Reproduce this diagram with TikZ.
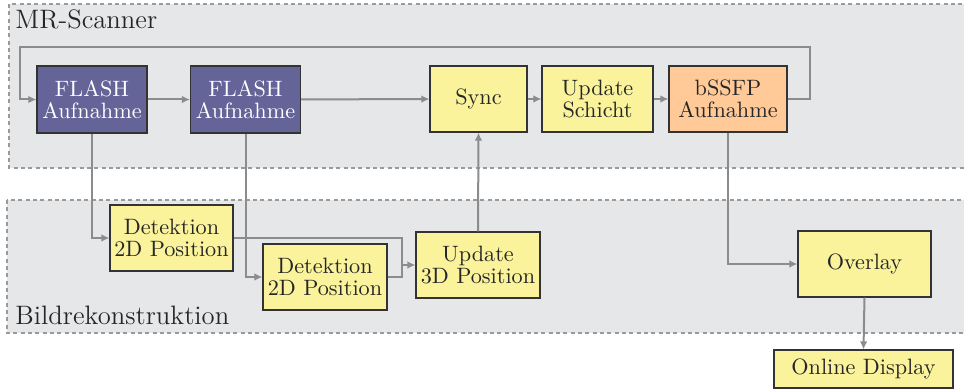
\documentclass[tikz,border=0pt]{standalone}
\usetikzlibrary{arrows.meta}
\definecolor{regionfill}{HTML}{E6E7E9}
\definecolor{regionline}{HTML}{9A9A9A}
\definecolor{flashfill}{HTML}{646499}
\definecolor{yellowfill}{HTML}{FAF39C}
\definecolor{orangefill}{HTML}{FFCA98}
\definecolor{linegray}{HTML}{8C8C8C}
\definecolor{boxline}{HTML}{333333}
\begin{document}
\begin{tikzpicture}[x=0.45pt,y=-0.45pt,
  region/.style={fill=regionfill,draw=regionline,line width=0.6pt,dash pattern=on 1.8pt off 1.5pt},
  regionlabel/.style={anchor=base west,font=\large,inner sep=0pt,text=black!85},
  box/.style={draw=boxline,line width=0.5pt,align=center,inner sep=1pt,
    font=\fontsize{10}{10}\selectfont,minimum height=29.7pt,text=black!85},
  flash/.style={box,fill=flashfill,text=white,minimum width=49.5pt,minimum height=30.15pt},
  yel/.style={box,fill=yellowfill},
  orng/.style={box,fill=orangefill},
  conn/.style={draw=linegray,line width=0.9pt,-{Latex[length=3.6pt,width=3.4pt]}},
  plain/.style={draw=linegray,line width=0.9pt}
]
\useasboundingbox (0,0) rectangle (964,390);
\begin{scope}
\clip (0,0) rectangle (964,390);
\path[region] (9,4) rectangle (1000,168);
\path[region] (7,200) rectangle (1000,333);
\end{scope}
\node[regionlabel] (lblmr) at (15,29) {MR-Scanner};
\node[regionlabel] (lblbild) at (15,325) {Bildrekonstruktion};

\node[flash] (f1) at (92,99.5) {FLASH\\Aufnahme};
\node[flash] (f2) at (245.5,99.5) {FLASH\\Aufnahme};
\node[yel,minimum width=43.65pt] (sync) at (478.5,99) {Sync};
\node[yel,minimum width=49.95pt] (schicht) at (597.5,99) {Update\\Schicht};
\node[orng,minimum width=53.1pt] (bssfp) at (728,99) {bSSFP\\Aufnahme};
\node[yel,minimum width=55.35pt] (d1) at (171.5,238) {Detektion\\2D Position};
\node[yel,minimum width=55.8pt] (d2) at (325,277) {Detektion\\2D Position};
\node[yel,minimum width=55.8pt] (u3d) at (478,265) {Update\\3D Position};
\node[yel,minimum width=59.85pt] (overlay) at (864.5,264) {Overlay};
\node[yel,minimum width=80.55pt,minimum height=17.1pt] (online) at (863.5,369) {Online Display};

\coordinate (loopR) at (810,47);
\coordinate (loopL) at (20,47);
\coordinate (join) at (402,265);

\draw[conn] (f1) -- (f2);
\draw[conn] (f2) -- (sync);
\draw[conn] (sync) -- (schicht);
\draw[conn] (schicht) -- (bssfp);
\draw[conn] (bssfp.east) -| (loopR) -- (loopL) |- (f1.west);
\draw[conn] (f1.south) |- (d1.west);
\draw[conn] (f2.south) |- (d2.west);
\draw[plain] (d1.east) -| (join);
\draw[plain] (d2.east) -| (join);
\draw[conn] (join) -- (u3d.west);
\draw[conn] (u3d.north) -- (sync.south);
\draw[conn] (bssfp.south) |- (overlay.west);
\draw[conn] (overlay.south) -- (online.north);
\end{tikzpicture}
\end{document}
